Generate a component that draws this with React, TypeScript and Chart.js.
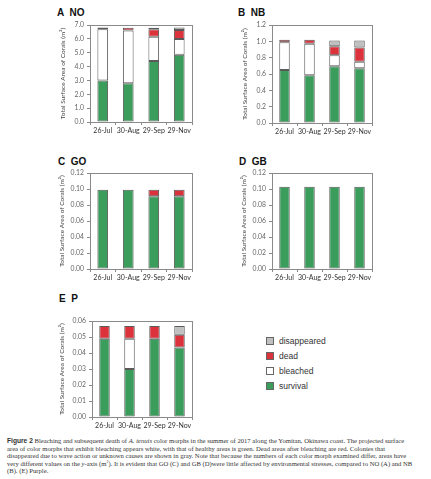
import React, { useEffect, useRef } from "react";
import { Chart, registerables } from "chart.js";

Chart.register(...registerables);

// ---- data ----
const dates = ["26-Jul", "30-Aug", "29-Sep", "29-Nov"];
const seriesNames = ["survival", "bleached", "dead", "disappeared"];

const noSurvival = [3.0, 2.8, 4.4, 4.85];
const noBleached = [3.7, 3.8, 1.75, 1.15];
const noDead = [0.12, 0.2, 0.55, 0.65];
const noDisappeared = [null, null, 0.1, 0.17];

const nbSurvival = [0.65, 0.585, 0.695, 0.67];
const nbBleached = [0.34, 0.385, 0.135, 0.08];
const nbDead = [0.03, 0.05, 0.11, 0.175];
const nbDisappeared = [null, null, 0.07, 0.085];

const goSurvival = [0.099, 0.099, 0.091, 0.091];
const goBleached = [null, null, null, null];
const goDead = [null, null, 0.008, 0.008];
const goDisappeared = [null, null, null, null];

const gbSurvival = [0.103, 0.103, 0.103, 0.103];
const gbBleached = [null, null, null, null];
const gbDead = [null, null, null, null];
const gbDisappeared = [null, null, null, null];

const pSurvival = [0.049, 0.030, 0.049, 0.0435];
const pBleached = [null, 0.019, null, null];
const pDead = [0.008, 0.008, 0.008, 0.008];
const pDisappeared = [null, null, null, 0.0055];

const colors = ["#3b9d5c", "#ffffff", "#dc323b", "#c0c0c0"];
const yTitle = "Total Surface Area of Corals (m\u00b2)";

const framePlugin = {
  id: "frame",
  beforeDatasetsDraw(chart: any) {
    const { ctx, chartArea } = chart;
    ctx.save();
    ctx.strokeStyle = "#8a8a8a";
    ctx.lineWidth = 1;
    ctx.strokeRect(
      Math.round(chartArea.left) + 0.5,
      Math.round(chartArea.top) + 0.5,
      Math.round(chartArea.right - chartArea.left),
      Math.round(chartArea.bottom - chartArea.top)
    );
    ctx.restore();
  },
};

type PanelProps = {
  l: number;
  t: number;
  r: number;
  b: number;
  titleX: number;
  yMax: number;
  yStep: number;
  decimals: number;
  series: (number | null)[][];
};

function Panel({ l, t, r, b, titleX, yMax, yStep, decimals, series }: PanelProps) {
  const ref = useRef<HTMLCanvasElement>(null);
  const canvasLeft = titleX - 4;
  const yWidth = l - canvasLeft;
  const padTop = 6;
  const padRight = 8;
  const xHeight = 18;
  const width = r - canvasLeft + padRight;
  const height = b - t + padTop + xHeight;

  useEffect(() => {
    if (!ref.current) return;
    const chart = new Chart(ref.current, {
      type: "bar",
      data: {
        labels: dates,
        datasets: series.map((d, i) => ({
          label: seriesNames[i],
          data: d,
          backgroundColor: colors[i],
          borderColor: "#5a5a5a",
          borderWidth: 1,
          borderSkipped: false,
          categoryPercentage: 1,
          barPercentage: 0.42,
        })),
      },
      options: {
        animation: false,
        responsive: false,
        devicePixelRatio: 1,
        layout: { padding: { top: padTop, right: padRight, left: 0, bottom: 0 } },
        plugins: { legend: { display: false }, tooltip: { enabled: false } },
        scales: {
          x: {
            stacked: true,
            afterFit: (s: any) => {
              s.height = xHeight;
            },
            grid: {
              offset: true,
              drawOnChartArea: false,
              tickLength: 3,
              color: "#8a8a8a",
            },
            border: { display: true, color: "#8a8a8a" },
            ticks: {
              padding: 2,
              color: "#333",
              font: { family: "Lato", size: 7 },
              maxRotation: 0,
              autoSkip: false,
            },
          },
          y: {
            stacked: true,
            min: 0,
            max: yMax,
            afterFit: (s: any) => {
              s.width = yWidth;
            },
            grid: { drawOnChartArea: false, tickLength: 3, color: "#8a8a8a" },
            border: { display: true, color: "#8a8a8a" },
            ticks: {
              stepSize: yStep,
              padding: 3,
              color: "#666",
              font: { family: "Lato", size: 6.8 },
              callback: (v: any) => Number(v).toFixed(decimals),
            },
            title: {
              display: true,
              text: yTitle,
              color: "#444",
              font: { family: "Lato", size: 6.5 },
              padding: { top: 0, bottom: 0 },
            },
          },
        },
      },
      plugins: [framePlugin],
    });
    return () => chart.destroy();
  }, []);

  return (
    <canvas
      ref={ref}
      width={width}
      height={height}
      style={{ position: "absolute", left: canvasLeft, top: t - padTop, width, height }}
    />
  );
}

const panelLabel = (text: string, x: number, y: number) => (
  <div
    style={{
      position: "absolute",
      left: x,
      top: y - 6,
      height: 12,
      lineHeight: "12px",
      fontFamily: "Liberation Sans, Arial, sans-serif",
      fontWeight: "bold",
      fontSize: 10,
      color: "#111",
      whiteSpace: "pre",
    }}
  >
    {text}
  </div>
);

const legendItems = [
  { name: "disappeared", color: colors[3] },
  { name: "dead", color: colors[2] },
  { name: "bleached", color: colors[1] },
  { name: "survival", color: colors[0] },
];

export default function App() {
  const capStyle: React.CSSProperties = { whiteSpace: "nowrap", height: 7.5 };
  return (
    <div
      style={{
        position: "absolute",
        left: 0,
        top: 0,
        width: 431,
        height: 479,
        background: "#fff",
        overflow: "hidden",
      }}
    >
      {panelLabel("A  NO", 57, 13)}
      {panelLabel("B  NB", 238, 13)}
      {panelLabel("C  GO", 58, 162)}
      {panelLabel("D  GB", 239, 162)}
      {panelLabel("E  P", 59, 299)}

      <Panel l={90} t={24} r={192} b={122} titleX={63} yMax={7} yStep={1} decimals={1}
        series={[noSurvival, noBleached, noDead, noDisappeared]} />
      <Panel l={272} t={24} r={372} b={123} titleX={245} yMax={1.2} yStep={0.2} decimals={1}
        series={[nbSurvival, nbBleached, nbDead, nbDisappeared]} />
      <Panel l={90} t={172} r={192} b={269} titleX={62} yMax={0.12} yStep={0.02} decimals={2}
        series={[goSurvival, goBleached, goDead, goDisappeared]} />
      <Panel l={272} t={172} r={372} b={269} titleX={244} yMax={0.12} yStep={0.02} decimals={2}
        series={[gbSurvival, gbBleached, gbDead, gbDisappeared]} />
      <Panel l={92} t={320} r={192} b={417} titleX={62} yMax={0.06} yStep={0.01} decimals={2}
        series={[pSurvival, pBleached, pDead, pDisappeared]} />

      {legendItems.map((it, i) => (
        <div
          key={it.name}
          style={{
            position: "absolute",
            left: 266,
            top: [341, 356, 371, 386][i] - 5,
            height: 10,
            display: "flex",
            alignItems: "center",
            fontFamily: "Liberation Sans, Arial, sans-serif",
            fontSize: 8.5,
            color: "#333",
          }}
        >
          <span
            style={{
              display: "inline-block",
              width: 6,
              height: 6,
              background: it.color,
              border: "1px solid #666",
              marginRight: 5,
            }}
          />
          {it.name}
        </div>
      ))}

      <div
        style={{
          position: "absolute",
          left: 7,
          top: 437,
          fontFamily: "Liberation Serif, DejaVu Serif, serif",
          fontSize: 6.65,
          lineHeight: "7.5px",
          color: "#333",
        }}
      >
        <div style={capStyle}>
          <b style={{ fontFamily: "Liberation Sans, Arial, sans-serif" }}>Figure 2</b> Bleaching and subsequent death of <i>A. tenuis</i> color morphs in the summer of 2017 along the Yomitan, Okinawa coast. The projected surface
        </div>
        <div style={capStyle}>
          area of color morphs that exhibit bleaching appears white, with that of healthy areas is green. Dead areas after bleaching are red. Colonies that
        </div>
        <div style={capStyle}>
          disappeared due to wave action or unknown causes are shown in gray. Note that because the numbers of each color morph examined differ, areas have
        </div>
        <div style={capStyle}>
          very different values on the <i>y</i>-axis (m<sup style={{ fontSize: 4, verticalAlign: "3px", lineHeight: 0 }}>2</sup>). It is evident that GO (C) and GB (D)were little affected by environmental stresses, compared to NO (A) and NB
        </div>
        <div style={capStyle}>(B). (E) Purple.</div>
      </div>
    </div>
  );
}
